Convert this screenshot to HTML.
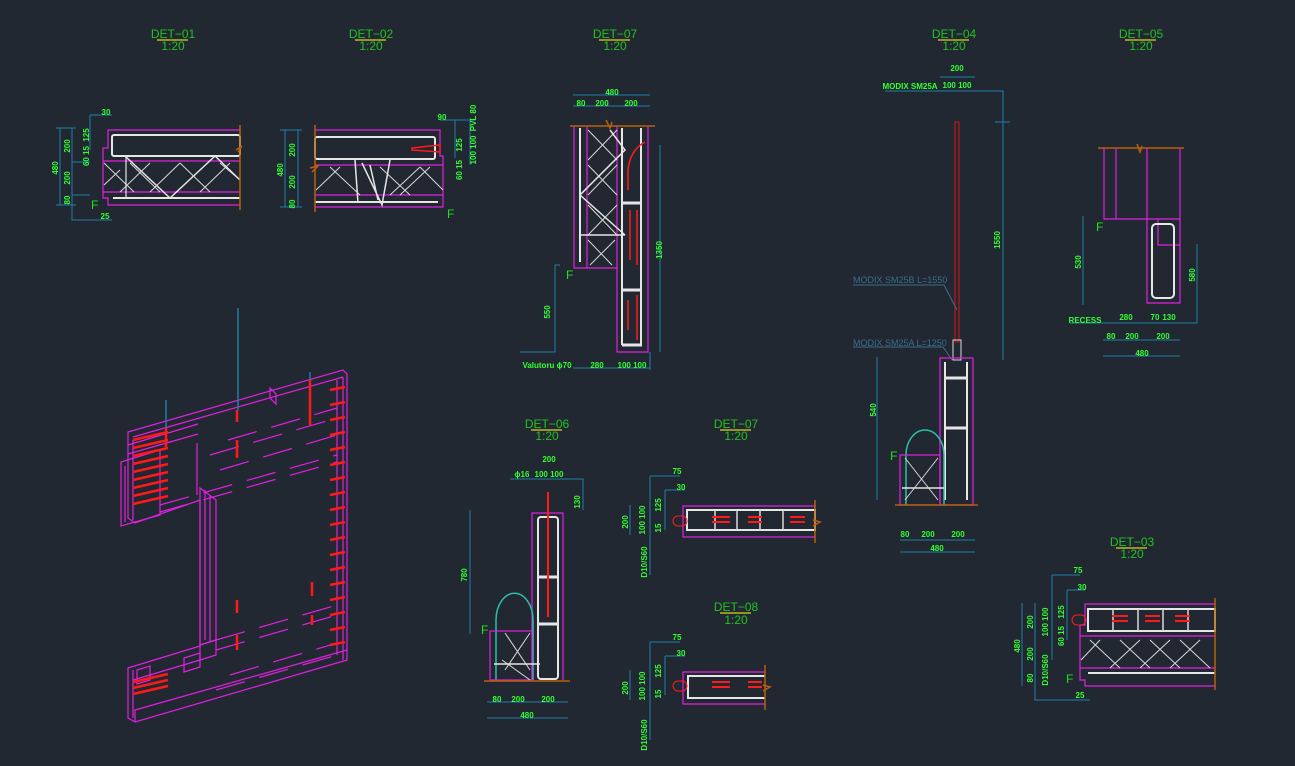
<!DOCTYPE html>
<html><head><meta charset="utf-8"><style>
html,body{margin:0;padding:0;background:#222831;}
svg{display:block}
.m{stroke:#e020e0;fill:none;stroke-width:1.2}
.w{stroke:#e6e6e6;fill:none;stroke-width:2}
.wt{stroke:#d8d8d8;fill:none;stroke-width:1}
.b{stroke:#1f7fa8;fill:none;stroke-width:1}
.r{stroke:#ff1a1a;fill:none;stroke-width:2}
.o{stroke:#b8600a;fill:none;stroke-width:1.5}
.c{stroke:#2ac0a8;fill:none;stroke-width:1.5}
text{font-family:"Liberation Sans",sans-serif}
.t{fill:#22c022;font-size:12px;text-anchor:middle}
.d{fill:#33ff33;font-size:8px;font-weight:bold;text-anchor:middle}
.f{fill:#22dd22;font-size:12px}
.l{fill:#3a6d8a;font-size:9px}
.y{stroke:#b8b820;stroke-width:1.5}
</style></head><body>
<svg width="1295" height="766" viewBox="0 0 1295 766" xmlns="http://www.w3.org/2000/svg">
<g>
<text class="t" x="173" y="38">DET−01</text><line class="y" x1="157" y1="40" x2="188" y2="40"/><text class="t" x="173" y="50">1:20</text>
<text class="t" x="371" y="38">DET−02</text><line class="y" x1="355" y1="40" x2="386" y2="40"/><text class="t" x="371" y="50">1:20</text>
<text class="t" x="615" y="38">DET−07</text><line class="y" x1="599" y1="40" x2="630" y2="40"/><text class="t" x="615" y="50">1:20</text>
<text class="t" x="954" y="38">DET−04</text><line class="y" x1="938" y1="40" x2="969" y2="40"/><text class="t" x="954" y="50">1:20</text>
<text class="t" x="1141" y="38">DET−05</text><line class="y" x1="1125" y1="40" x2="1156" y2="40"/><text class="t" x="1141" y="50">1:20</text>
<text class="t" x="547" y="428">DET−06</text><line class="y" x1="531" y1="430" x2="562" y2="430"/><text class="t" x="547" y="440">1:20</text>
<text class="t" x="736" y="428">DET−07</text><line class="y" x1="720" y1="430" x2="751" y2="430"/><text class="t" x="736" y="440">1:20</text>
<text class="t" x="736" y="611">DET−08</text><line class="y" x1="720" y1="613" x2="751" y2="613"/><text class="t" x="736" y="624">1:20</text>
<text class="t" x="1132" y="546">DET−03</text><line class="y" x1="1116" y1="548" x2="1147" y2="548"/><text class="t" x="1132" y="558">1:20</text>
</g>

<!-- DET-01 -->
<g>
<path class="m" d="M240 130 H108 V148 H103 V198 H108 V205 H240"/>
<line class="m" x1="103" y1="161" x2="240" y2="161"/><line class="m" x1="103" y1="192" x2="240" y2="192"/>
<rect class="w" x="112" y="135" width="128" height="21" rx="2"/>
<line class="w" x1="113" y1="198" x2="240" y2="198"/>
<path class="wt" d="M104 163 L134 192 M120 192 L150 163 M130 163 L160 192 M150 192 L180 163 M180 163 L210 192 M200 192 L230 163 M220 163 L240 180 M104 185 L120 170"/>
<path class="w" d="M125 156 L170 198 L215 156 L240 180" style="stroke-width:1.5"/>
<line class="w" x1="126" y1="156" x2="126" y2="198" style="stroke-width:1.2"/>
<path class="o" d="M240 125 V210 M236 150 L242 146 L238 152"/>
<path class="b" d="M60 128 V205 M72 128 V205 M56 128 H76 M56 205 H76 M72 162 H90 M72 195 H90 M90 115 V150 M90 115 H112 M72 205 V220 H112"/>
<text class="d" transform="translate(58 168) rotate(-90)">480</text>
<text class="d" transform="translate(70 146) rotate(-90)">200</text>
<text class="d" transform="translate(70 178) rotate(-90)">200</text>
<text class="d" transform="translate(70 200) rotate(-90)">80</text>
<text class="d" transform="translate(89 135) rotate(-90)">125</text>
<text class="d" transform="translate(89 156) rotate(-90)">60 15</text>
<text class="d" x="106" y="115">30</text><text class="d" x="105" y="219">25</text>
<text class="f" x="91" y="209">F</text>
</g>

<!-- DET-02 -->
<g>
<path class="m" d="M315 130 H440 V156 H443 V207 H315"/>
<line class="m" x1="315" y1="165" x2="443" y2="165"/><line class="m" x1="315" y1="195" x2="443" y2="195"/>
<rect class="w" x="315" y="137" width="120" height="22" rx="2"/>
<line class="w" x1="315" y1="202" x2="438" y2="202"/>
<path class="wt" d="M316 190 L340 167 M330 167 L360 195 M380 167 L410 195 M400 195 L430 167 M420 167 L443 190 M390 195 L420 167"/>
<path class="w" d="M355 160 L358 203 M362 163 L382 205 L390 160 M370 165 L378 200" style="stroke-width:1.5"/>
<path class="r" d="M412 148 L440 145 V152 L412 150 Z" style="stroke-width:1.5"/>
<path class="o" d="M315 125 V212 M310 168 L318 166 L312 172"/>
<path class="b" d="M285 130 V207 M298 130 V207 M280 130 H302 M280 207 H302 M455 120 V158 M470 118 V165 M440 120 H475"/>
<text class="d" transform="translate(283 170) rotate(-90)">480</text>
<text class="d" transform="translate(295 150) rotate(-90)">200</text>
<text class="d" transform="translate(295 182) rotate(-90)">200</text>
<text class="d" transform="translate(295 204) rotate(-90)">80</text>
<text class="d" x="442" y="120">90</text>
<text class="d" transform="translate(462 145) rotate(-90)">125</text>
<text class="d" transform="translate(462 170) rotate(-90)">60 15</text>
<text class="d" transform="translate(476 118) rotate(-90)">PVL 80</text>
<text class="d" transform="translate(476 150) rotate(-90)">100 100</text>
<text class="f" x="447" y="218">F</text>
</g>

<!-- DET-07 top -->
<g>
<path class="m" d="M574 126 V268 H617 V352 H648 V126"/>
<line class="m" x1="587" y1="126" x2="587" y2="268"/><line class="m" x1="617" y1="126" x2="617" y2="268"/>
<line class="w" x1="580" y1="128" x2="580" y2="262"/>
<line class="w" x1="622" y1="128" x2="622" y2="345"/><line class="w" x1="641" y1="128" x2="641" y2="345"/>
<path class="wt" d="M588 130 L617 160 M588 160 L617 130 M588 165 L617 195 M588 195 L617 165 M588 205 L617 235 M588 235 L617 205 M588 240 L612 265 M590 265 L615 240"/>
<path class="w" d="M610 130 L625 150 L580 195 L625 235" style="stroke-width:1.5"/>
<line class="w" x1="580" y1="235" x2="625" y2="235" style="stroke-width:1.5"/>
<path class="w" d="M622 203 H642 M622 290 H642 M622 345 H642" style="stroke-width:3"/>
<path class="r" d="M628 190 V170 Q630 150 645 142 M630 210 V260 M637 210 V265 M628 300 V330 M637 295 V340" style="stroke-width:1.5"/>
<path class="o" d="M570 126 H655 M606 120 L610 128 L612 122"/>
<path class="b" d="M573 95 H650 M573 106 H650 M555 265 V352 H520 M660 145 V352 M573 368 H650 M650 352 V370 M555 265 H560"/>
<text class="d" x="612" y="95">480</text>
<text class="d" x="581" y="106">80</text><text class="d" x="602" y="106">200</text><text class="d" x="631" y="106">200</text>
<text class="d" transform="translate(662 250) rotate(-90)">1350</text>
<text class="d" transform="translate(550 312) rotate(-90)">550</text>
<text class="d" x="547" y="368">Valutoru ϕ70</text><text class="d" x="597" y="368">280</text><text class="d" x="632" y="368">100 100</text>
<text class="f" x="566" y="279">F</text>
</g>

<!-- DET-04 -->
<g>
<text class="d" x="910" y="89">MODIX SM25A</text>
<path class="b" d="M885 91 H1003 V360 M940 77 H975 M995 122 H1010"/>
<text class="d" x="957" y="71">200</text><text class="d" x="957" y="88">100 100</text>
<text class="d" transform="translate(1000 240) rotate(-90)">1550</text>
<rect x="955" y="122" width="4" height="220" style="stroke:#e01010;fill:none;stroke-width:1"/>
<text class="l" x="853" y="283">MODIX SM25B L=1550</text>
<path style="stroke:#3a6d8a;fill:none" d="M853 285 H944 L957 310 M853 347 H943 L952 360"/>
<text class="l" x="853" y="346">MODIX SM25A L=1250</text>
<rect class="wt" x="953" y="340" width="8" height="20"/>
<path class="m" d="M940 358 H973 V505 H940 Z"/>
<line class="w" x1="945" y1="362" x2="945" y2="500"/><line class="w" x1="967" y1="362" x2="967" y2="500"/>
<path class="w" d="M945 378 H967 M945 428 H967" style="stroke-width:3"/>
<path class="c" d="M906 505 V455 A19 25 0 0 1 944 455 V505"/>
<rect class="m" x="900" y="455" width="40" height="50"/>
<path class="wt" d="M905 458 L938 500 M905 500 L938 458"/>
<line class="w" x1="902" y1="488" x2="944" y2="488" style="stroke-width:1.5"/>
<line class="o" x1="895" y1="505" x2="978" y2="505"/>
<path class="b" d="M877 357 V500 M900 540 H975 M900 552 H975"/>
<text class="d" transform="translate(876 410) rotate(-90)">540</text>
<text class="d" x="905" y="537">80</text><text class="d" x="928" y="537">200</text><text class="d" x="958" y="537">200</text>
<text class="d" x="937" y="551">480</text>
<text class="f" x="890" y="460">F</text>
</g>

<!-- DET-05 -->
<g>
<path class="o" d="M1098 148 H1184 M1137 144 L1140 152 L1142 146"/>
<path class="m" d="M1104 148 V219 H1180 V303 H1147 V148 M1116 148 V219 M1180 148 V219 M1158 219 V245 H1180"/>
<rect class="w" x="1152" y="224" width="22" height="74" rx="4"/>
<path class="b" d="M1083 216 V305 M1197 244 V305 M1070 323 H1197 V305 M1103 340 H1180 M1103 356 H1180"/>
<text class="d" transform="translate(1081 262) rotate(-90)">530</text>
<text class="d" transform="translate(1195 275) rotate(-90)">580</text>
<text class="d" x="1085" y="323">RECESS</text><text class="d" x="1126" y="320">280</text><text class="d" x="1155" y="320">70</text><text class="d" x="1169" y="320">130</text>
<text class="d" x="1111" y="339">80</text><text class="d" x="1132" y="339">200</text><text class="d" x="1163" y="339">200</text><text class="d" x="1142" y="356">480</text>
<text class="f" x="1096" y="231">F</text>
</g>

<!-- DET-06 -->
<g>
<path class="m" d="M532 680 V513 H563 V680"/>
<rect class="w" x="538" y="517" width="20" height="162" rx="3"/>
<path class="w" d="M538 577 H558 M538 624 H558" style="stroke-width:3"/>
<line class="r" x1="548" y1="492" x2="548" y2="617"/>
<path class="c" d="M496 680 V620 A18 26 0 0 1 533 620 V680"/>
<rect class="m" x="490" y="631" width="42" height="49"/>
<path class="wt" d="M505 633 L530 670 M505 670 L530 633 M502 660 L530 680"/>
<line class="w" x1="494" y1="664" x2="540" y2="664" style="stroke-width:1.5"/>
<line class="o" x1="484" y1="681" x2="570" y2="681"/>
<path class="b" d="M510 479 H567 M512 479 H583 V510 M470 510 V634 M487 702 H568 M487 718 H568"/>
<text class="d" x="549" y="462">200</text><text class="d" x="522" y="477">ϕ16</text><text class="d" x="549" y="477">100 100</text>
<text class="d" transform="translate(580 502) rotate(-90)">130</text>
<text class="d" transform="translate(467 575) rotate(-90)">780</text>
<text class="d" x="497" y="702">80</text><text class="d" x="518" y="702">200</text><text class="d" x="548" y="702">200</text><text class="d" x="527" y="718">480</text>
<text class="f" x="481" y="634">F</text>
</g>

<!-- DET-07 lower -->
<g>
<path class="m" d="M815 506 H683 V537 H815"/>
<rect class="w" x="687" y="510" width="128" height="20"/>
<path class="wt" d="M715 510 V530 M737 510 V530 M760 510 V530 M783 510 V530" style="stroke-width:1.5"/>
<path class="r" d="M712 517 H730 M712 522 H730 M748 517 H762 M748 522 H762 M790 517 H805 M790 522 H805"/>
<rect x="673" y="516" width="14" height="10" rx="5" style="stroke:#ff1a1a;fill:none"/>
<path class="o" d="M815 500 V543 M813 520 L820 522 L813 526"/>
<path class="b" d="M630 505 V535 M650 476 H680 M650 476 V575 M665 490 H685 M665 490 V530"/>
<text class="d" x="677" y="474">75</text><text class="d" x="681" y="490">30</text>
<text class="d" transform="translate(628 522) rotate(-90)">200</text>
<text class="d" transform="translate(645 520) rotate(-90)">100 100</text>
<text class="d" transform="translate(661 505) rotate(-90)">125</text>
<text class="d" transform="translate(661 528) rotate(-90)">15</text>
<text class="d" transform="translate(647 562) rotate(-90)">D10/S60</text>
</g>

<!-- DET-08 -->
<g>
<path class="m" d="M765 672 H683 V704 H765"/>
<path class="w" d="M765 676 H688 V698 H765"/>
<path class="r" d="M712 682 H730 M712 687 H730 M748 682 H762 M748 687 H762"/>
<rect x="673" y="681" width="14" height="10" rx="5" style="stroke:#ff1a1a;fill:none"/>
<path class="o" d="M765 665 V710 M763 685 L770 687 L763 691"/>
<path class="b" d="M630 670 V700 M650 642 H680 M650 642 V740 M665 656 H685 M665 656 V695"/>
<text class="d" x="677" y="640">75</text><text class="d" x="681" y="656">30</text>
<text class="d" transform="translate(628 688) rotate(-90)">200</text>
<text class="d" transform="translate(645 686) rotate(-90)">100 100</text>
<text class="d" transform="translate(661 671) rotate(-90)">125</text>
<text class="d" transform="translate(661 694) rotate(-90)">15</text>
<text class="d" transform="translate(647 735) rotate(-90)">D10/S60</text>
</g>

<!-- DET-03 -->
<g>
<path class="m" d="M1215 604 H1085 V625 H1080 V680 H1085 V686 H1215"/>
<line class="m" x1="1080" y1="636" x2="1215" y2="636"/><line class="m" x1="1080" y1="668" x2="1215" y2="668"/>
<rect class="w" x="1088" y="609" width="127" height="22"/>
<path class="wt" d="M1113 609 V631 M1138 609 V631 M1163 609 V631 M1188 609 V631" style="stroke-width:1.5"/>
<path class="r" d="M1112 616 H1128 M1112 621 H1128 M1145 616 H1160 M1145 621 H1160 M1175 616 H1190 M1175 621 H1190"/>
<rect x="1072" y="615" width="14" height="10" rx="5" style="stroke:#ff1a1a;fill:none"/>
<line class="w" x1="1088" y1="673" x2="1215" y2="673"/>
<path class="wt" d="M1081 660 L1100 640 M1090 640 L1120 668 M1120 640 L1150 668 M1150 640 L1180 668 M1180 640 L1210 668 M1110 668 L1140 640 M1140 668 L1170 640 M1170 668 L1200 640"/>
<path class="o" d="M1215 598 V690"/>
<path class="b" d="M1022 603 V686 M1035 603 V686 M1052 575 H1080 M1052 575 V660 M1067 590 H1085 M1067 590 V640 M1035 686 V700 H1090"/>
<text class="d" x="1078" y="573">75</text><text class="d" x="1082" y="590">30</text>
<text class="d" transform="translate(1020 646) rotate(-90)">480</text>
<text class="d" transform="translate(1033 622) rotate(-90)">200</text>
<text class="d" transform="translate(1033 654) rotate(-90)">200</text>
<text class="d" transform="translate(1033 678) rotate(-90)">80</text>
<text class="d" transform="translate(1048 622) rotate(-90)">100 100</text>
<text class="d" transform="translate(1064 612) rotate(-90)">125</text>
<text class="d" transform="translate(1064 636) rotate(-90)">60 15</text>
<text class="d" transform="translate(1048 670) rotate(-90)">D10/S60</text>
<text class="d" x="1080" y="698">25</text>
<text class="f" x="1066" y="683">F</text>
</g>

<!-- 3D view -->
<g>
<path class="m" d="M128 432 L343 370 L347 374 V660 L135 722 L128 718 V668 L200 646 V500 L135 523 L128 518 Z"/>
<path class="m" d="M133 437 L343 377 M133 440 V520 M133 670 V718 M343 377 V660 M337 380 V655 M135 722 V710 L347 650"/>
<path class="m" d="M128 445 L198 424 M128 454 L198 434"/>
<path class="m" d="M270 388 L276 394 L276 404 L270 398 Z"/>
<path class="m" d="M121 462 L160 450 V515 L121 526 Z M125 466 V522"/>
<path class="m" d="M197 443 V495 M200 488 L216 500 V640 L200 645 Z M205 490 V640 M210 495 V642"/>
<path class="m" d="M200 645 L216 640 L216 655 L200 660 Z"/>
<path class="m" d="M133 680 L200 660"/>
<path class="m" d="M137 670 L150 666 V680 L137 684 Z M184 658 L200 653 V667 L184 672 Z"/>
<path class="m" d="M216 640 L337 605 M216 650 L337 615 M160 505 L337 455 M160 512 L337 462 M220 470 L337 435 M210 455 L337 418 M228 440 L337 408" style="stroke-dasharray:30 15"/>
<path class="m" d="M216 690 L337 655 M230 675 L337 643" style="stroke-dasharray:30 15"/>
<g class="r" style="stroke-width:2.5">
<path d="M133 440 L168 432 M133 448 L168 440 M133 456 L168 448 M133 464 L168 456 M133 472 L168 464 M133 480 L168 472 M133 488 L168 480 M133 496 L168 488 M133 504 L168 496"/>
<path d="M133 682 L168 674 M133 688 L168 680 M133 694 L168 686"/>
<path d="M330 390 L345 387 M330 405 L345 402 M330 420 L345 417 M330 435 L345 432 M330 450 L345 447 M330 465 L345 462 M330 480 L345 477 M330 495 L345 492 M330 510 L345 507 M330 525 L345 522 M330 540 L345 537 M330 555 L345 552 M330 570 L345 567 M330 585 L345 582 M330 600 L345 597 M330 615 L345 612 M330 630 L345 627 M330 645 L345 642"/>
<path d="M237 410 V422 M237 440 V458 M310 380 V425 M166 428 V447 M237 600 V613 M237 635 V650 M312 582 V596 M312 615 V625"/>
</g>
<path style="stroke:#1f7fa8;stroke-width:1.5" d="M238 308 V410 M310 372 V380 M166 400 V428"/>
</g>
</svg>
</body></html>
